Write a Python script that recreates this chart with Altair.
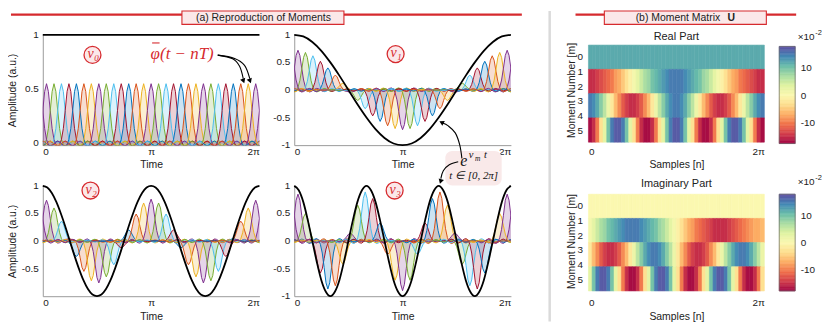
import altair as alt
import numpy as np
import pandas as pd

PI = float(np.pi)
TWO_PI = 2.0 * PI

# ---------------------------------------------------------------- data
N_KERNELS = 29
KERNEL_COLORS = ["#0072BD", "#D95319", "#EDB120", "#7E2F8E", "#77AC30", "#4DBEEE", "#A2142F"]
COLOR_KEYS = ["c0", "c1", "c2", "c3", "c4", "c5", "c6"]

# kernel shape (relative to its peak) at offsets measured in kernel spacings
PROFILE_OFFSETS = [-4.0, -3.75, -3.5, -3.25, -3.0, -2.75, -2.5, -2.25, -2.0, -1.75, -1.5, -1.25,
                   -1.0, -0.75, -0.5, -0.25, 0.0, 0.25, 0.5, 0.75, 1.0, 1.25, 1.5, 1.75, 2.0,
                   2.25, 2.5, 2.75, 3.0, 3.25, 3.5, 3.75, 4.0]
PROFILE = [0.0, -0.02, -0.04, -0.03, 0.0, 0.03, 0.04, 0.02, -0.01, -0.04, -0.05, -0.02,
           0.07, 0.25, 0.55, 0.87, 1.0, 0.87, 0.55, 0.25, 0.07, -0.02, -0.05, -0.04, -0.01,
           0.02, 0.04, 0.03, 0.0, -0.03, -0.04, -0.02, 0.0]

# kernel amplitudes (peak heights)
AMP_NU0 = [0.55, 0.55, 0.55, 0.55, 0.55, 0.55, 0.55, 0.55, 0.55, 0.55, 0.55, 0.55, 0.55, 0.55, 0.55,
           0.55, 0.55, 0.55, 0.55, 0.55, 0.55, 0.55, 0.55, 0.55, 0.55, 0.55, 0.55, 0.55, 0.55]
AMP_NU1 = [0.72, 0.68, 0.62, 0.52, 0.40, 0.27, 0.12, -0.04, -0.19, -0.34, -0.47, -0.57, -0.65, -0.70,
           -0.72, -0.70, -0.65, -0.57, -0.47, -0.34, -0.19, -0.04, 0.12, 0.27, 0.40, 0.52, 0.62, 0.68, 0.72]
AMP_NU2 = [0.74, 0.60, 0.36, 0.04, -0.28, -0.55, -0.72, -0.76, -0.65, -0.43, -0.12, 0.20, 0.49, 0.69,
           0.76, 0.69, 0.49, 0.20, -0.12, -0.43, -0.65, -0.76, -0.72, -0.55, -0.28, 0.04, 0.36, 0.60, 0.74]
AMP_NU3 = [0.85, 0.50, -0.04, -0.58, -0.87, -0.81, -0.42, 0.14, 0.65, 0.89, 0.77, 0.33, -0.24, -0.71,
           -0.90, -0.71, -0.24, 0.33, 0.77, 0.89, 0.65, 0.14, -0.42, -0.81, -0.87, -0.58, -0.04, 0.50, 0.85]

# black target curves
BLACK_NU0_T = [0.0, TWO_PI]
BLACK_NU0_V = [1.0, 1.0]
BLACK_T_12 = [k * PI / 12 for k in range(25)]
BLACK_T_24 = [k * PI / 24 for k in range(49)]
BLACK_NU1_V = [1.0, 0.97, 0.87, 0.71, 0.5, 0.26, 0.0, -0.26, -0.5, -0.71, -0.87, -0.97, -1.0,
               -0.97, -0.87, -0.71, -0.5, -0.26, 0.0, 0.26, 0.5, 0.71, 0.87, 0.97, 1.0]
BLACK_NU2_V = [1.0, 0.97, 0.87, 0.71, 0.5, 0.26, 0.0, -0.26, -0.5, -0.71, -0.87, -0.97, -1.0,
               -0.97, -0.87, -0.71, -0.5, -0.26, 0.0, 0.26, 0.5, 0.71, 0.87, 0.97, 1.0,
               0.97, 0.87, 0.71, 0.5, 0.26, 0.0, -0.26, -0.5, -0.71, -0.87, -0.97, -1.0,
               -0.97, -0.87, -0.71, -0.5, -0.26, 0.0, 0.26, 0.5, 0.71, 0.87, 0.97, 1.0]
BLACK_NU3_V = [1.0, 0.92, 0.71, 0.38, 0.0, -0.38, -0.71, -0.92, -1.0, -0.92, -0.71, -0.38, 0.0, 0.38, 0.71, 0.92,
               1.0, 0.92, 0.71, 0.38, 0.0, -0.38, -0.71, -0.92, -1.0, -0.92, -0.71, -0.38, 0.0, 0.38, 0.71, 0.92,
               1.0, 0.92, 0.71, 0.38, 0.0, -0.38, -0.71, -0.92, -1.0, -0.92, -0.71, -0.38, 0.0, 0.38, 0.71, 0.92,
               1.0]

# y tick labels of each panel
YTICKS_NU0 = [0, 0.5, 1]
YTICKS_NU1 = [-1, -0.5, 0, 0.5, 1]
YTICKS_NU2 = [-0.5, 0, 0.5, 1]
YTICKS_NU3 = [-1, -0.5, 0, 0.5, 1]

# annotation arrows (data coordinates of their panels)
PHI_ARROW_T = [5.073, 5.505, 5.707, 5.813, 5.073, 5.562, 5.851, 6.003]
PHI_ARROW_V = [0.813, 0.779, 0.710, 0.596, 0.813, 0.783, 0.719, 0.596]
PHI_ARROW_ID = ["a", "a", "a", "a", "b", "b", "b", "b"]
E_ARROW_T = [4.862, 4.799, 4.669, 4.467, 4.30, 4.755, 4.496, 4.323, 4.251]
E_ARROW_V = [-1.241, -0.995, -0.778, -0.652, -0.60, -1.301, -1.355, -1.463, -1.607]
E_ARROW_ID = ["a", "a", "a", "a", "a", "b", "b", "b", "b"]

# moment matrix U (values x 1e-2), 48 sample columns over [0, 2pi]
N_COLS = 48
BAND_EDGES = [-0.8, 0.85, 2.5, 4.15, 5.8]
REAL_M0 = [12] * 48
REAL_M1 = [-15, -15, -14, -13, -12, -11, -10, -8, -7, -5, -3, -1, 1, 3, 5, 7, 8, 10, 11, 12, 13, 14, 15, 15,
           15, 15, 14, 13, 12, 11, 10, 8, 7, 5, 3, 1, -1, -3, -5, -7, -8, -10, -11, -12, -13, -14, -15, -15]
REAL_M2 = [15, 14, 12, 9, 6, 2, -2, -6, -9, -12, -14, -15, -15, -14, -12, -9, -6, -2, 2, 6, 9, 12, 14, 15,
           15, 14, 12, 9, 6, 2, -2, -6, -9, -12, -14, -15, -15, -14, -12, -9, -6, -2, 2, 6, 9, 12, 14, 15]
REAL_M3 = [-17, -15, -10, -3, 3, 10, 15, 17, 17, 15, 10, 3, -3, -10, -15, -17,
           -17, -15, -10, -3, 3, 10, 15, 17, 17, 15, 10, 3, -3, -10, -15, -17,
           -17, -15, -10, -3, 3, 10, 15, 17, 17, 15, 10, 3, -3, -10, -15, -17]
IMAG_M0 = [0] * 48
IMAG_M1 = [1, 3, 5, 7, 8, 10, 11, 12, 13, 14, 15, 15, 15, 15, 14, 13, 12, 11, 10, 8, 7, 5, 3, 1,
           -1, -3, -5, -7, -8, -10, -11, -12, -13, -14, -15, -15, -15, -15, -14, -13, -12, -11, -10, -9, -8, -7, -7, -6]
IMAG_M2 = [-2, -6, -9, -12, -14, -15, -15, -14, -12, -9, -6, -2, 2, 6, 9, 12, 14, 15, 15, 14, 12, 9, 6, 2,
           -2, -6, -9, -12, -14, -15, -15, -14, -12, -9, -6, -2, 2, 6, 9, 12, 14, 15, 15, 14, 12, 9, 6, 2]
IMAG_M3 = [3, 10, 15, 17, 17, 15, 10, 3, -3, -10, -15, -17, -17, -15, -10, -3,
           3, 10, 15, 17, 17, 15, 10, 3, -3, -10, -15, -17, -17, -15, -10, -3,
           3, 10, 15, 17, 17, 15, 10, 3, -3, -10, -15, -17, -17, -15, -10, -3]
CB_DOMAIN = [-17.7, 17.8]
CB_TICKS = [-10, 0, 10]

# ---------------------------------------------------------------- styling
RED = "#d62a2e"
PINK = "#fbe8e9"
BOX_PINK = "#f9e9e9"
SANS = "Liberation Sans"
SERIF = "Liberation Serif"
ONE = pd.DataFrame({"d": [0]})
X_PI_LABELS = "datum.value < 0.5 ? '0' : (datum.value < 4 ? 'π' : '2π')"


def ptext(x, y, s, size=10, color="#222222", font=SANS, style="normal", weight="normal", align="center"):
    return alt.Chart(ONE).mark_text(text=s, fontSize=size, color=color, font=font, fontStyle=style,
                                    fontWeight=weight, align=align, baseline="middle").encode(
        x=alt.value(x), y=alt.value(y))


def prect(x, x2, y, y2, fill, stroke=None, sw=1.0, r=0):
    kw = dict(fill=fill, cornerRadius=r, opacity=1)
    if stroke:
        kw.update(stroke=stroke, strokeWidth=sw)
    return alt.Chart(ONE).mark_rect(**kw).encode(x=alt.value(x), x2=alt.value(x2), y=alt.value(y), y2=alt.value(y2))


def prule(x, x2, y, y2, color, width):
    return alt.Chart(ONE).mark_rule(color=color, strokeWidth=width).encode(
        x=alt.value(x), x2=alt.value(x2), y=alt.value(y), y2=alt.value(y2))


def nu_label(cx, cy, sub):
    circ = alt.Chart(ONE).mark_circle(size=290, color=PINK, stroke=RED, strokeWidth=1.3, opacity=1).encode(
        x=alt.value(cx), y=alt.value(cy))
    return [circ,
            ptext(cx - 2, cy - 1, "ν", size=14, color=RED, font=SERIF, style="italic"),
            ptext(cx + 4, cy + 3, sub, size=9, color=RED, font=SERIF, style="italic")]


def kernel_frame(amps):
    T = TWO_PI / N_KERNELS
    rows = []
    for n, a in enumerate(amps):
        for shift in (-N_KERNELS, 0, N_KERNELS):
            c = (n + 0.5 + shift) * T
            if c + 4 * T < 0 or c - 4 * T > TWO_PI:
                continue
            kid = "%d_%d" % (n, shift)
            for off, p in zip(PROFILE_OFFSETS, PROFILE):
                rows.append({"t": c + off * T, "v": a * p, "k": kid, "c": COLOR_KEYS[(n + 3) % 7]})
    return pd.DataFrame(rows)


def wave_panel(amps, black_t, black_v, ydom, yticks, ytitle, extras):
    kdf = kernel_frame(amps)
    xenc = alt.X("t:Q", scale=alt.Scale(domain=[0, TWO_PI], nice=False, zero=False),
                 axis=alt.Axis(values=[0, PI, TWO_PI], labelExpr=X_PI_LABELS, title="Time",
                               labelPadding=1, titlePadding=4, labelOverlap=False))
    # y axis: line + title only; its tick labels are drawn as text marks placed by the y scale
    yaxis = alt.Axis(values=yticks, labels=False, title=ytitle, titlePadding=25 if ytitle else 0)
    yenc = alt.Y("v:Q", stack=None, scale=alt.Scale(domain=ydom, nice=False, zero=False), axis=yaxis)
    color = alt.Color("c:N", scale=alt.Scale(domain=COLOR_KEYS, range=KERNEL_COLORS), legend=None)
    area = alt.Chart(kdf).mark_area(clip=True, opacity=0.2).encode(
        x=xenc, y=yenc, y2=alt.datum(0), color=color, detail="k:N")
    line = alt.Chart(kdf).mark_line(clip=True, strokeWidth=1.0).encode(
        x=xenc, y=yenc, color=color, detail="k:N")
    black = alt.Chart(pd.DataFrame({"t": black_t, "v": black_v})).mark_line(
        color="black", strokeWidth=1.8, interpolate="monotone").encode(x=xenc, y=yenc)
    tdf = pd.DataFrame({"v": yticks, "lab": [("%g" % v) for v in yticks]})
    ylabels = alt.Chart(tdf).mark_text(align="right", baseline="middle", fontSize=10, font=SANS,
                                       color="#222222").encode(x=alt.value(-4), y=yenc, text="lab:N")
    return alt.layer(area, line, black, ylabels, *extras).properties(width=218, height=111)


def arrow_layers(ts, vs, ids, heads):
    df = pd.DataFrame({"t": ts, "v": vs, "arc": ids, "o": list(range(len(ts)))})
    out = [alt.Chart(df).mark_line(color="black", strokeWidth=1.1, interpolate="cardinal").encode(
        x="t:Q", y="v:Q", detail="arc:N", order="o:Q")]
    for (t, v, shape, ang) in heads:
        out.append(alt.Chart(pd.DataFrame({"t": [t], "v": [v]})).mark_point(
            shape=shape, filled=True, color="black", size=30, opacity=1, angle=ang).encode(x="t:Q", y="v:Q"))
    return out


def heat_panel(bands, title, title_y, ydom, cb_ydom, exp_y):
    rows = []
    step = TWO_PI / N_COLS
    for m, band in enumerate(bands):
        for k, val in enumerate(band):
            rows.append({"x": k * step, "x2": (k + 1) * step, "y": BAND_EDGES[m], "y2": BAND_EDGES[m + 1], "val": val})
    df = pd.DataFrame(rows)
    cscale = alt.Scale(scheme="spectral", domain=CB_DOMAIN)
    rect = alt.Chart(df).mark_rect(strokeWidth=0.6).encode(
        x=alt.X("x:Q", scale=alt.Scale(domain=[0, TWO_PI], nice=False, zero=False),
                axis=alt.Axis(values=[0, TWO_PI], labelExpr="datum.value < 1 ? '0' : '2π'", title="Samples [n]",
                              domain=False, labelPadding=1, titlePadding=4, labelOverlap=False)),
        x2="x2:Q",
        y=alt.Y("y:Q", scale=alt.Scale(domain=ydom, reverse=True, nice=False, zero=False),
                axis=alt.Axis(values=[0, 1, 2, 3, 4, 5], title="Moment Number [m]", domain=False,
                              labelPadding=6, titlePadding=0, labelOverlap=False)),
        y2="y2:Q",
        color=alt.Color("val:Q", scale=cscale, legend=None),
        stroke=alt.Stroke("val:Q", scale=cscale, legend=None),
    )
    # colour bar drawn as a stack of thin cells of the same colour scale
    levels = [CB_DOMAIN[0] + 0.5 * i for i in range(72) if CB_DOMAIN[0] + 0.5 * i < CB_DOMAIN[1]]
    cdf = pd.DataFrame({"lo": levels, "hi": [min(l + 0.5, CB_DOMAIN[1]) for l in levels],
                        "val": [l + 0.25 for l in levels]})
    bar = alt.Chart(cdf).mark_rect(strokeWidth=0.6).encode(
        x=alt.value(192), x2=alt.value(208),
        y=alt.Y("lo:Q", scale=alt.Scale(domain=cb_ydom, nice=False, zero=False),
                axis=alt.Axis(orient="right", values=CB_TICKS, labelExpr="'' + datum.value", title=None,
                              domain=False, labelPadding=5, offset=31, labelOverlap=False)),
        y2="hi:Q",
        color=alt.Color("val:Q", scale=cscale, legend=None),
        stroke=alt.Stroke("val:Q", scale=cscale, legend=None),
    )
    outline = alt.Chart(ONE).mark_rect(fillOpacity=0, stroke="#666666", strokeWidth=0.7).encode(
        x=alt.value(192), x2=alt.value(208), y=alt.datum(CB_DOMAIN[0]), y2=alt.datum(CB_DOMAIN[1]))
    cbar = alt.layer(bar, outline)
    texts = alt.layer(ptext(88.5, title_y, title, size=11),
                      ptext(219, exp_y, "×10", size=10),
                      ptext(231.5, exp_y - 3.7, "-2", size=7.5))
    return alt.layer(rect, cbar, texts).resolve_scale(y="independent").properties(width=177, height=111)


# ---------------------------------------------------------------- panels
banner = [
    prule(-32, 482, -20.3, -20.3, RED, 2.2),
    prule(536, 758, -20.3, -20.3, RED, 2.2),
    prect(140, 303, -24, -10.5, PINK, RED, 1.1),
    prect(565, 728, -24, -10.5, PINK, RED, 1.1),
    ptext(222, -17, "(a)   Reproduction of Moments", size=10.5),
    ptext(596.5, -17, "(b)   Moment Matrix", size=10.5, align="left"),
    ptext(696.5, -17, "U", size=10.5, weight="bold", align="right"),
]
phi_text = [
    ptext(108.5, 19.7, "φ", size=17, color=RED, font=SERIF, style="italic", align="left"),
    ptext(118, 19.7, "(t − nT)", size=17, color=RED, font=SERIF, style="italic", align="left"),
    prule(110, 117.5, 8.2, 8.2, RED, 1.1),
]
phi_arrows = arrow_layers(PHI_ARROW_T, PHI_ARROW_V, PHI_ARROW_ID,
                          [(5.82, 0.575, "triangle-down", 340), (6.01, 0.575, "triangle-down", 340)])

nu0 = wave_panel(AMP_NU0, BLACK_NU0_T, BLACK_NU0_V, [-0.015, 1.0], YTICKS_NU0, "Amplitude (a.u.)",
                 banner + nu_label(50, 20.2, "0") + phi_text + phi_arrows)

e_box = [
    prect(152, 208.7, 117, 151.7, BOX_PINK, r=7),
    ptext(170.5, 127.5, "e", size=16, color="#111111", font=SERIF, style="italic"),
    ptext(178, 121.0, "ν", size=10.5, color="#111111", font=SERIF, style="italic"),
    ptext(184.5, 124.5, "m", size=7.5, color="#111111", font=SERIF, style="italic"),
    ptext(192.5, 121.0, "t", size=10.5, color="#111111", font=SERIF, style="italic"),
    ptext(180.5, 142.2, "t ∈ [0, 2π]", size=11, color="#111111", font=SERIF, style="italic"),
]
e_arrows = arrow_layers(E_ARROW_T, E_ARROW_V, E_ARROW_ID,
                        [(4.27, -0.585, "triangle-up", 298), (4.245, -1.66, "triangle-down", 17)])

nu1 = wave_panel(AMP_NU1, BLACK_T_12, BLACK_NU1_V, [-1, 1], YTICKS_NU1, None,
                 nu_label(102, 19.4, "1") + e_box + e_arrows)
nu2 = wave_panel(AMP_NU2, BLACK_T_24, BLACK_NU2_V, [-1, 1], YTICKS_NU2, "Amplitude (a.u.)",
                 nu_label(48, 4.7, "2"))
nu3 = wave_panel(AMP_NU3, BLACK_T_24, BLACK_NU3_V, [-1, 1], YTICKS_NU3, None,
                 nu_label(101, 4.7, "3"))

spacer1 = alt.Chart(ONE).mark_rule(color="#dadada", strokeWidth=2.5).encode(
    x=alt.value(4), y=alt.value(-24), y2=alt.value(288.5)).properties(width=8, height=111)
spacer2 = alt.Chart(ONE).mark_rule(opacity=0).encode(
    x=alt.value(4), y=alt.value(0), y2=alt.value(1)).properties(width=8, height=111)

heat_re = heat_panel([REAL_M0, REAL_M1, REAL_M2, REAL_M3], "Real Part", 2.0,
                     [-1.5, 6.0], [-18.28, 22.05], 1.9)
heat_im = heat_panel([IMAG_M0, IMAG_M1, IMAG_M2, IMAG_M3], "Imaginary Part", -1.6,
                     [-1.37, 6.16], [-19.63, 20.86], -3.8)

RES = dict(x="independent", y="independent", color="independent", stroke="independent")

chart = alt.concat(nu0, nu1, spacer1, heat_re, nu2, nu3, spacer2, heat_im,
                   columns=4, spacing={"row": 41, "column": 35}, bounds="flush"
                   ).resolve_scale(**RES).properties(padding=0)

chart = chart.configure_view(stroke=None).configure_axis(
    labelFont=SANS, titleFont=SANS, labelFontSize=10, titleFontSize=10.5, titleFontWeight="normal",
    labelColor="#222222", titleColor="#222222", domainColor="#9a9a9a", grid=False, ticks=False,
    labelOverlap=False)

chart.save("out.html", embed_options={"renderer": "svg", "actions": False})
